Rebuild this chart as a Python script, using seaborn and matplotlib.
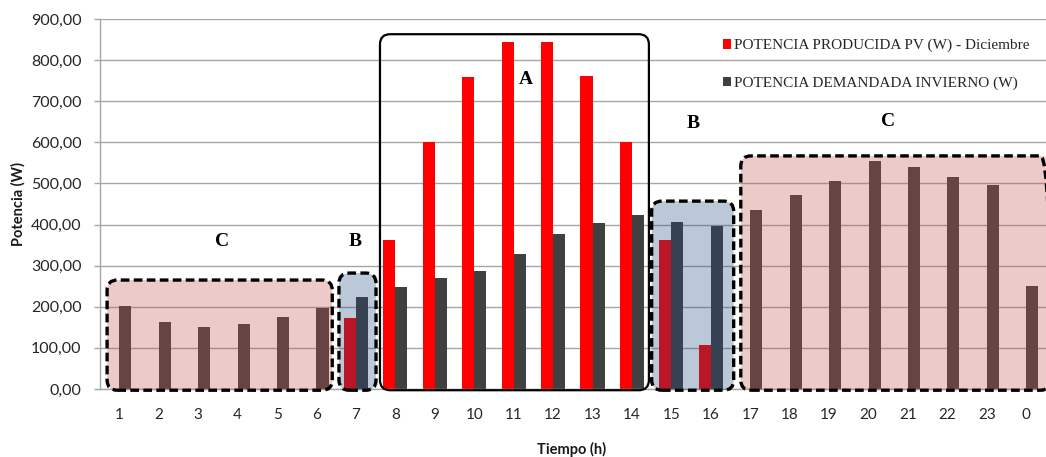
import numpy as np
import pandas as pd
import matplotlib
matplotlib.use("Agg")
import matplotlib.pyplot as plt
from matplotlib.patches import FancyBboxPatch
from matplotlib.ticker import FuncFormatter
import seaborn as sns

# Hourly profile for a December day
hours = ["1", "2", "3", "4", "5", "6", "7", "8", "9", "10", "11", "12",
         "13", "14", "15", "16", "17", "18", "19", "20", "21", "22", "23", "0"]
pv_power = [0, 0, 0, 0, 0, 0, 172, 362, 600, 758, 845, 845,
            761, 600, 362, 106, 0, 0, 0, 0, 0, 0, 0, 0]
demand_power = [202, 163, 151, 157, 174, 198, 225, 249, 269, 287, 328, 376,
                405, 423, 406, 397, 435, 471, 507, 555, 539, 516, 496, 251]
series_names = ["POTENCIA PRODUCIDA PV (W) - Diciembre",
                "POTENCIA DEMANDADA INVIERNO (W)"]
series_colors = ["#FF0000", "#404040"]
y_ticks = [0, 100, 200, 300, 400, 500, 600, 700, 800, 900]

# Operating zones: (label, first hour, last hour, box top value, label x, label value)
zones = [
    ("C", "1", "6", 265, 2.6, 358),
    ("B", "7", "7", 282, 5.97, 358),
    ("A", "8", "14", 863, 10.31, 752),
    ("B", "15", "16", 457, 14.55, 645),
    ("C", "17", "0", 567, 19.49, 650),
]

df = pd.DataFrame({
    "Hora": hours * 2,
    "Potencia": pv_power + demand_power,
    "Serie": [series_names[0]] * len(hours) + [series_names[1]] * len(hours),
})

sns.set_theme(style="white")
plt.rcParams["font.family"] = ["Lato", "DejaVu Sans"]

W, H = 1046, 457
fig = plt.figure(figsize=(W / 100, H / 100), dpi=100)
ax = fig.add_axes([99.6 / W, 68 / H, (W - 99.6) / W, 370 / H])

sns.barplot(data=df, x="Hora", y="Potencia", hue="Serie", order=hours,
            hue_order=series_names, palette=series_colors, width=0.61,
            linewidth=0, saturation=1, ax=ax)

ax.set_ylim(0, 900)
ax.set_xlim(-0.5, len(hours) - 0.5)
ax.set_yticks(y_ticks)
ax.yaxis.set_major_formatter(FuncFormatter(lambda v, p: f"{v:.2f}".replace(".", ",")))
ax.set_axisbelow(True)
ax.grid(axis="y", color="#A6A6A6", linewidth=1.0)
ax.grid(axis="x", visible=False)

for side in ["top", "right"]:
    ax.spines[side].set_visible(False)
for side in ["left", "bottom"]:
    ax.spines[side].set_color("#A6A6A6")
    ax.spines[side].set_linewidth(1.0)

ax.tick_params(axis="y", which="major", left=True, length=4, width=1,
               color="#A6A6A6", pad=9, labelsize=11.5, labelcolor="#262626")
ax.tick_params(axis="x", length=0, pad=14, labelsize=11, labelcolor="#262626")

ax.set_xlabel("Tiempo (h)", fontsize=10.5, fontweight="bold", color="#1a1a1a")
ax.set_ylabel("Potencia (W)", fontsize=10.5, fontweight="bold", color="#1a1a1a")
ax.xaxis.set_label_coords(0.499, -0.142)
ax.yaxis.set_label_coords(-0.078, 0.5)

# Legend in the upper right, no frame
handles, labels = ax.get_legend_handles_labels()
ax.legend(handles, labels, loc="upper left", frameon=False,
          bbox_to_anchor=(723 / W, (H - 39) / H), bbox_transform=fig.transFigure,
          borderaxespad=0, borderpad=0, handlelength=0.55, handleheight=0.55,
          handletextpad=0.15, labelspacing=1.6,
          prop={"family": "Liberation Serif", "size": 11})

# Aspect ratio between data units so that corner rounding looks circular
p0 = ax.transData.transform((0, 0))
p1 = ax.transData.transform((1, 100))
px_x = p1[0] - p0[0]
px_y = (p1[1] - p0[1]) / 100
aspect = px_x / px_y

zone_style = {
    "C": dict(face="#C0504D", alpha=0.3, ls=(0, (2.6, 1.3)), lw=2.4),
    "B": dict(face="#1F497D", alpha=0.3, ls=(0, (2.6, 1.3)), lw=2.4),
    "A": dict(face="none", alpha=1.0, ls="-", lw=1.6),
}
# Horizontal padding of each box around its hours
zone_pad = [(0.31, 0.40), (0.43, 0.51), (0.39, 0.43), (0.50, 0.58), (0.24, 0.62)]

for (name, h0, h1, top, lab_x, lab_y), (pl, pr) in zip(zones, zone_pad):
    i0, i1 = hours.index(h0), hours.index(h1)
    x0, x1 = i0 - pl, i1 + pr
    y0 = -3
    st = zone_style[name]
    rs = 0.26
    if st["face"] != "none":
        fill = FancyBboxPatch((x0, y0), x1 - x0, top - y0,
                              boxstyle=f"round,pad=0,rounding_size={rs}",
                              mutation_aspect=aspect, facecolor=st["face"],
                              alpha=st["alpha"], edgecolor="none",
                              zorder=4, clip_on=False)
        ax.add_patch(fill)
    edge = FancyBboxPatch((x0, y0), x1 - x0, top - y0,
                          boxstyle=f"round,pad=0,rounding_size={rs}",
                          mutation_aspect=aspect, facecolor="none",
                          edgecolor="black", linewidth=st["lw"],
                          linestyle=st["ls"], zorder=5, clip_on=False)
    ax.add_patch(edge)
    ax.text(lab_x, lab_y, name, ha="center", va="center", fontsize=14,
            fontweight="bold", family="Liberation Serif", color="black",
            zorder=6)

fig.savefig("out.png", dpi=100)
